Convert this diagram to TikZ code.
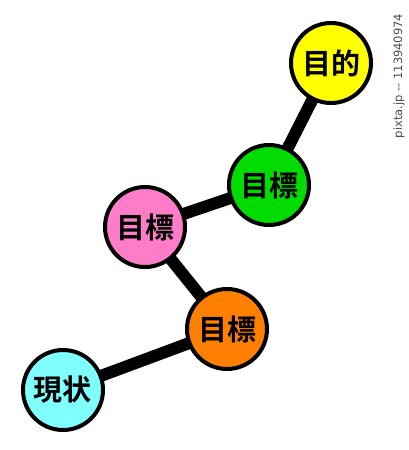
\documentclass[tikz,border=0pt]{standalone}
\usepackage{fontspec}
\usetikzlibrary{backgrounds}
\newfontfamily\jp{Noto Sans CJK JP}[BoldFont={* Bold}]
\newfontfamily\wm{DejaVu Sans}
\begin{document}
\begin{tikzpicture}[x=1pt,y=-1pt,
  ball/.style={circle,draw=black,line width=4pt,minimum size=80pt,inner sep=0pt,
    font=\jp\bfseries\fontsize{29}{29}\selectfont},
  link/.style={line width=12pt,black}]
\useasboundingbox (0,0) rectangle (408,450);
\node[ball,fill={rgb,255:red,255;green,255;blue,0}] (goal) at (331,63) {目的};
\node[ball,fill={rgb,255:red,0;green,220;blue,0}] (g3) at (269,185) {目標};
\node[ball,fill={rgb,255:red,255;green,125;blue,200}] (g2) at (145,227) {目標};
\node[ball,fill={rgb,255:red,255;green,128;blue,0}] (g1) at (227,329) {目標};
\node[ball,fill={rgb,255:red,128;green,255;blue,255}] (now) at (63,390) {現状};
\begin{scope}[on background layer]
\draw[link] (now.center) -- (g1.center);
\draw[link] (g1.center) -- (g2.center);
\draw[link] (g2.center) -- (g3.center);
\draw[link] (g3.center) -- (goal.center);
\end{scope}
\node[rotate=90,text=black!70,font=\wm\fontsize{11.5}{11.5}\selectfont,inner sep=0pt] (wm) at (399,76) {pixta.jp -- 113940974};
\end{tikzpicture}
\end{document}
